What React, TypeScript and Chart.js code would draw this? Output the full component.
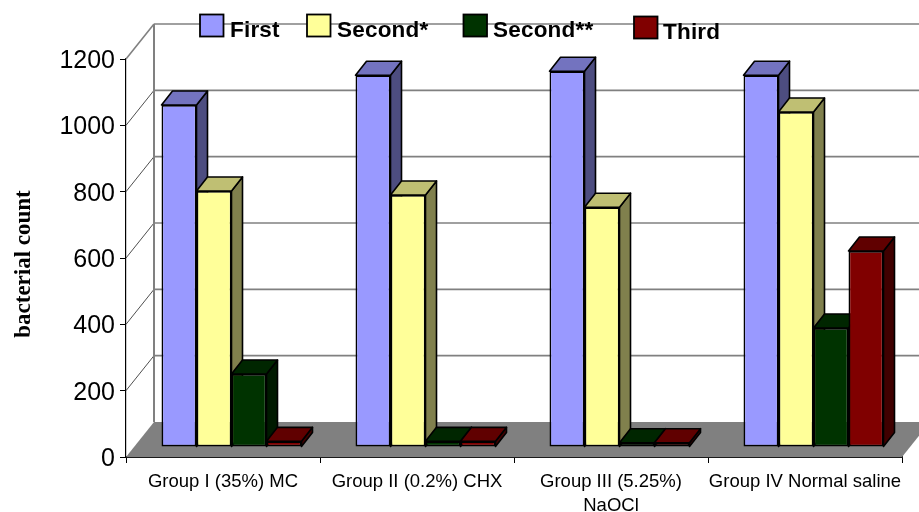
import { useEffect, useRef } from "react";
import { Chart, registerables } from "chart.js";

Chart.register(...registerables);

const categories: (string | string[])[] = [
  "Group I (35%) MC",
  "Group II (0.2%) CHX",
  ["Group III (5.25%)", "NaOCl"],
  "Group IV Normal saline",
];
const firstCounts = [1031, 1121, 1133, 1121];
const secondStarCounts = [772, 760, 723, 1010];
const secondDoubleStarCounts = [220, 17, 13, 359];
const thirdCounts = [17, 17, 13, 591];
const yAxisLabel = "bacterial count";
const seriesNames = ["First", "Second*", "Second**", "Third"];
const frontColors = ["#9999FF", "#FFFF99", "#003300", "#800000"];
const topColors = ["#7373BF", "#BFBF73", "#002600", "#600000"];
const sideColors = ["#4D4D80", "#80804D", "#001A00", "#400000"];

// Projection of the chart box: the back wall sits up and to the right of the
// front axes, and the bars stand part-way into the floor.
const WALL_DX = 28;
const WALL_DY = -35;
const BAR_DX = 8.5;
const BAR_DY = -10;
const DEPTH_DX = 11;
const DEPTH_DY = -14;

const LEGEND_BOXES = [
  { x: 200, y: 14.5, textX: 230, baseline: 36.5 },
  { x: 307, y: 14.5, textX: 337, baseline: 36.5 },
  { x: 463.5, y: 14.5, textX: 493, baseline: 36.5 },
  { x: 634, y: 16.5, textX: 663, baseline: 38.5 },
];

function poly(ctx: CanvasRenderingContext2D, pts: number[][]) {
  ctx.beginPath();
  pts.forEach(([x, y], i) => (i ? ctx.lineTo(x, y) : ctx.moveTo(x, y)));
  ctx.closePath();
}

const box3d = {
  id: "box3d",
  beforeDatasetsDraw(chart: any) {
    const { ctx, chartArea: area, scales } = chart;
    const yScale = scales.y;
    const zeroY = yScale.getPixelForValue(0);

    // floor
    ctx.save();
    ctx.fillStyle = "#808080";
    poly(ctx, [
      [area.left, zeroY],
      [area.right, zeroY],
      [area.right + WALL_DX, zeroY + WALL_DY],
      [area.left + WALL_DX, zeroY + WALL_DY],
    ]);
    ctx.fill();

    // back wall gridlines and the diagonals joining them to the value axis
    yScale.ticks.forEach((tick: any, i: number) => {
      const y = yScale.getPixelForValue(tick.value);
      const isTop = i === yScale.ticks.length - 1;
      if (tick.value !== 0) {
        ctx.strokeStyle = "#808080";
        ctx.lineWidth = 1.6;
        ctx.beginPath();
        ctx.moveTo(area.left + WALL_DX, y + WALL_DY);
        ctx.lineTo(area.right + WALL_DX, y + WALL_DY);
        ctx.stroke();
        ctx.strokeStyle = isTop ? "#808080" : "#222222";
        ctx.lineWidth = isTop ? 1.6 : 0.8;
        ctx.beginPath();
        ctx.moveTo(area.left, y);
        ctx.lineTo(area.left + WALL_DX, y + WALL_DY);
        ctx.stroke();
      }
    });
    ctx.strokeStyle = "#808080";
    ctx.lineWidth = 2;
    ctx.beginPath();
    ctx.moveTo(area.left + WALL_DX, yScale.getPixelForValue(1200) + WALL_DY);
    ctx.lineTo(area.left + WALL_DX, zeroY + WALL_DY);
    ctx.stroke();

    // bars, painted left to right so each one overlaps its neighbour's side
    ctx.translate(BAR_DX, BAR_DY);
    ctx.lineJoin = "round";
    ctx.strokeStyle = "#000000";
    ctx.lineWidth = 1.6;
    chart.data.datasets.forEach((_: any, di: number) => {
      chart.getDatasetMeta(di).data.forEach((bar: any) => {
        const { x, y, base, width } = bar.getProps(["x", "y", "base", "width"], true);
        const l = x - width / 2;
        const r = x + width / 2;
        ctx.fillStyle = sideColors[di];
        poly(ctx, [
          [r, y],
          [r + DEPTH_DX, y + DEPTH_DY],
          [r + DEPTH_DX, base + DEPTH_DY],
          [r, base],
        ]);
        ctx.fill();
        ctx.stroke();
        ctx.fillStyle = topColors[di];
        poly(ctx, [
          [l, y],
          [l + DEPTH_DX, y + DEPTH_DY],
          [r + DEPTH_DX, y + DEPTH_DY],
          [r, y],
        ]);
        ctx.fill();
        ctx.stroke();
        bar.draw(ctx);
      });
    });
    ctx.restore();
    return false;
  },
  afterDraw(chart: any) {
    const { ctx } = chart;
    ctx.save();

    // rotated value-axis caption
    ctx.translate(30, 264);
    ctx.rotate(-Math.PI / 2);
    ctx.font = 'bold 23px "Liberation Serif"';
    ctx.fillStyle = "#000000";
    ctx.textAlign = "center";
    ctx.textBaseline = "alphabetic";
    ctx.fillText(yAxisLabel, 0, 0);
    ctx.restore();

    // legend laid over the top of the back wall
    ctx.save();
    ctx.font = 'bold 22.5px "Liberation Sans"';
    (ctx as any).letterSpacing = "0.2px";
    ctx.textBaseline = "alphabetic";
    ctx.textAlign = "left";
    seriesNames.forEach((name, i) => {
      const b = LEGEND_BOXES[i];
      ctx.fillStyle = frontColors[i];
      ctx.strokeStyle = "#000000";
      ctx.lineWidth = 1.8;
      ctx.fillRect(b.x, b.y, 23.5, 22);
      ctx.strokeRect(b.x, b.y, 23.5, 22);
      ctx.fillStyle = "#000000";
      ctx.fillText(name, b.textX, b.baseline);
    });
    ctx.restore();
  },
};

export default function App() {
  const ref = useRef<HTMLCanvasElement>(null);
  useEffect(() => {
    const series = [firstCounts, secondStarCounts, secondDoubleStarCounts, thirdCounts];
    const chart = new Chart(ref.current!, {
      type: "bar",
      data: {
        labels: categories as any,
        datasets: series.map((values, i) => ({
          label: seriesNames[i],
          data: values,
          backgroundColor: frontColors[i],
          borderColor: "#000000",
          borderWidth: 1.7,
          borderSkipped: false,
          categoryPercentage: 0.7216,
          barPercentage: 1,
        })),
      },
      options: {
        responsive: false,
        animation: false,
        layout: { padding: { top: 59, right: 17, left: 0, bottom: 0 } },
        plugins: {
          legend: { display: false },
          tooltip: { enabled: false },
        },
        scales: {
          x: {
            grid: { drawOnChartArea: false, drawTicks: true, tickLength: 6, color: "#000000" },
            border: { color: "#1a1a1a", width: 2 },
            ticks: {
              autoSkip: false,
              maxRotation: 0,
              minRotation: 0,
              color: "#000000",
              padding: 7,
              font: { family: '"Liberation Sans"', size: 18.5, lineHeight: 1.3 },
            },
            afterFit: (scale: any) => {
              scale.height = 55;
            },
          },
          y: {
            min: 0,
            max: 1200,
            grid: { drawOnChartArea: false, drawTicks: true, tickLength: 6, color: "#000000" },
            border: { color: "#000000", width: 1.2 },
            ticks: {
              stepSize: 200,
              autoSkip: false,
              color: "#000000",
              padding: 5,
              labelOffset: 2,
              callback: (value: number) => String(value),
              font: { family: '"Liberation Sans"', size: 25 },
            },
            afterFit: (scale: any) => {
              scale.width = 126;
            },
          },
        },
      },
      plugins: [box3d],
    } as any);
    return () => chart.destroy();
  }, []);
  return (
    <div style={{ position: "fixed", left: 0, top: 0, width: 919, height: 512, background: "#fff" }}>
      <canvas ref={ref} width={919} height={512} style={{ display: "block" }} />
    </div>
  );
}
